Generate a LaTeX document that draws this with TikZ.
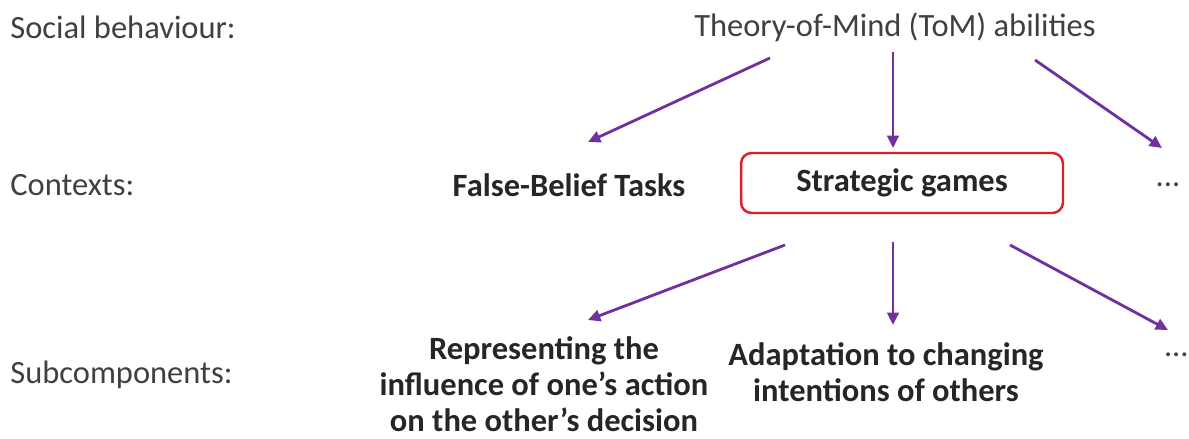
\documentclass[tikz,border=0pt]{standalone}
\usepackage{fontspec}
\setmainfont{Carlito}
\usetikzlibrary{arrows.meta}
\definecolor{tompurple}{RGB}{112,48,160}
\definecolor{boxred}{RGB}{225,30,40}
\definecolor{labelgray}{RGB}{64,64,64}

\begin{document}
\begin{tikzpicture}[x=0.02cm,y=-0.02cm,
  every node/.style={font=\fontsize{18.5}{20.5}\selectfont,inner sep=0pt,text=labelgray},
  ctx/.style={font=\fontsize{18.5}{20.5}\selectfont\bfseries,text=black!85},
  arr/.style={tompurple,line width=1.6pt,-{Triangle[length=7pt,width=6.5pt]}}]
\useasboundingbox (0,0) rectangle (1189,439);
% row labels
\node[anchor=west] (social) at (10,27) {Social behaviour:};
\node[anchor=west] (contexts) at (10,185) {Contexts:};
\node[anchor=west] (subcomp) at (10,375) {Subcomponents:};
% nodes
\node (tom) at (895,27) {Theory-of-Mind (ToM) abilities};
\node[ctx] (fbt) at (569,185) {False-Belief Tasks};
\node[ctx,draw=boxred,line width=1.4pt,rounded corners=6pt,minimum width=6.44cm,minimum height=1.2cm] (sg) at (902,183) {Strategic games};
\node (more1) at (1168,185) {...};
\node[ctx,align=center] (rep) at (544,384) {Representing the\\influence of one's action\\on the other's decision};
\node[ctx,align=center] (adapt) at (886,372) {Adaptation to changing\\intentions of others};
\node[anchor=east] (more2) at (1189,355) {...};
% arrow ends
\coordinate (t1) at (770,58);
\coordinate (t2) at (893,52);
\coordinate (t3) at (1035,60);
\coordinate (e1) at (588,142);
\coordinate (e2) at (893,148);
\coordinate (e3) at (1162,148);
\coordinate (s1) at (785,245);
\coordinate (s2) at (893,242);
\coordinate (s3) at (1010,245);
\coordinate (f1) at (588,320);
\coordinate (f2) at (893,325);
\coordinate (f3) at (1168,330);
% arrows
\draw[arr] (t1) -- (e1);
\draw[arr] (t2) -- (e2);
\draw[arr] (t3) -- (e3);
\draw[arr] (s1) -- (f1);
\draw[arr] (s2) -- (f2);
\draw[arr] (s3) -- (f3);
\end{tikzpicture}
\end{document}
